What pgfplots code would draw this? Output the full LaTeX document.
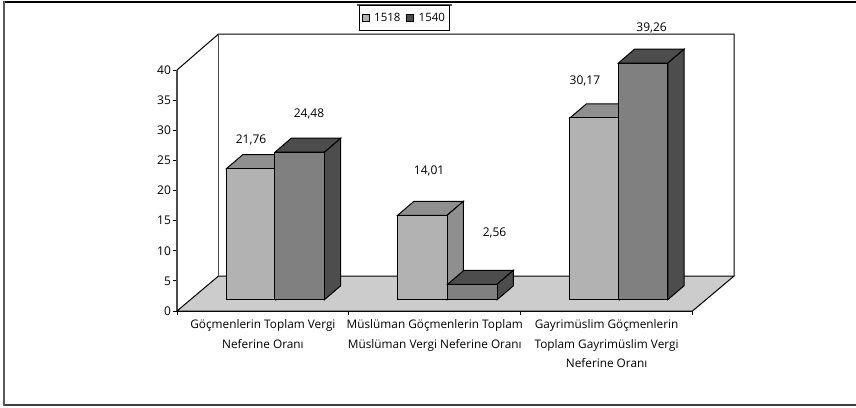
\documentclass[border=0pt]{standalone}
\usepackage{fontspec}
\setmainfont{Open Sans}
\usepackage{pgfplots}
\pgfplotsset{compat=1.18}

\definecolor{floorgray}{HTML}{CCCCCC}
\definecolor{lightfront}{HTML}{B2B2B2}
\definecolor{lightside}{HTML}{8F8F8F}
\definecolor{darkfront}{HTML}{808080}
\definecolor{darkside}{HTML}{4D4D4D}

% 3D look: front face, top and side, base lifted off the floor edge
\newcommand{\threedbar}[5]{%
  \addplot[fill=#4,draw=black,line width=1pt,forget plot] coordinates {
    ({#1},{1.875+#2}) ({#1+0.0949},{1.875+#2+2.32})
    ({#1+0.288+0.0949},{1.875+#2+2.32}) ({#1+0.288},{1.875+#2})} --cycle;
  \addplot[fill=#5,draw=black,line width=1pt,forget plot] coordinates {
    ({#1+0.288},{1.875}) ({#1+0.288+0.0949},{1.875+2.32})
    ({#1+0.288+0.0949},{1.875+#2+2.32}) ({#1+0.288},{1.875+#2})} --cycle;
  \addplot[fill=#3,draw=black,line width=1pt,forget plot] coordinates {
    ({#1},{1.875}) ({#1},{1.875+#2}) ({#1+0.288},{1.875+#2}) ({#1+0.288},{1.875})} --cycle;
}

\begin{document}
\begin{tikzpicture}
\useasboundingbox (-177pt,-96pt) rectangle (679pt,311pt);
\draw[black,line width=2pt] (-173pt,309pt) -- (679pt,309pt);
\draw[black!75,line width=2pt] (-173pt,-93.7pt) -- (679pt,-93.7pt);
\draw[black!65,line width=2pt] (-173pt,310pt) -- (-173pt,-94.7pt);
\begin{axis}[
  scale only axis,
  width=515.5pt,
  height=241pt,
  xmin=0, xmax=3,
  ymin=0, ymax=40,
  clip=false,
  axis y line=left,
  axis x line=bottom,
  axis line style={-},
  x axis line style={line width=1.6pt,black},
  y axis line style={line width=1.6pt,black!70},
  tick align=outside,
  major tick length=4pt,
  tick style={black,line width=0.8pt},
  ytick={0,5,...,40},
  xtick={0,1,2,3},
  xticklabels={},
  extra x ticks={0.5,1.5,2.5},
  extra x tick labels={{Göçmenlerin Toplam Vergi\\Neferine Oranı},{Müslüman Göçmenlerin Toplam\\Müslüman Vergi Neferine Oranı},{Gayrimüslim Göçmenlerin\\Toplam Gayrimüslim Vergi\\Neferine Oranı}},
  extra x tick style={tick style={draw=none}},
  xticklabel style={align=center,font=\fontsize{11.8pt}{19.6pt}\selectfont,yshift=-1pt},
  yticklabel style={font=\fontsize{12pt}{14pt}\selectfont,xshift=1.5pt},
  /pgf/number format/assume math mode=true,
  legend columns=2,
  legend style={at={(axis description cs:0.4413,1.2147)},anchor=center,draw=black,line width=1pt,
    font=\fontsize{11.5pt}{14pt}\selectfont,inner xsep=2.5pt,inner ysep=5.5pt,
    /tikz/every even column/.append style={column sep=4pt}},
  legend cell align=left,
]
\addlegendimage{only marks,mark=square*,mark size=3.6pt,mark options={fill=lightfront,draw=black,line width=0.8pt}}
\addlegendentry{\hspace{3pt}1518}
\addlegendimage{only marks,mark=square*,mark size=3.6pt,mark options={fill=darkside,draw=black,line width=0.8pt}}
\addlegendentry{\hspace{3pt}1540}

% floor and back wall
\addplot[fill=floorgray,draw=black,line width=1pt,forget plot] coordinates {
  (0,0) (3,0) (3.2415,5.8) (0.2415,5.8)} --cycle;
\addplot[draw=black,line width=1pt,forget plot] coordinates {
  (0,40) (0.2415,45.97) (3.2415,45.97) (3.2415,5.8)};
\addplot[draw=black!70,line width=1.6pt,forget plot] coordinates {
  (0.2415,45.97) (0.2415,5.8)};

% bars: start, value, front, top, side
\threedbar{0.288}{21.76}{lightfront}{lightside}{lightside}
\threedbar{0.570}{24.48}{darkfront}{darkside}{darkside}
\threedbar{1.284}{14.01}{lightfront}{lightside}{lightside}
\threedbar{1.575}{2.56}{darkfront}{darkside}{darkside}
\threedbar{2.287}{30.17}{lightfront}{lightside}{lightside}
\threedbar{2.568}{39.26}{darkfront}{darkside}{darkside}

% value labels, placed where they stand in the picture
\addplot[only marks,mark=none,forget plot,point meta=explicit symbolic,
  nodes near coords,
  every node near coord/.append style={anchor=center,yshift=-1.2pt,font=\fontsize{12pt}{14pt}\selectfont}]
  table[meta=label] {
  x y label
  0.431 28.55 21,76
  0.768 32.90 24,48
  1.467 23.40 14,01
  1.848 13.10 2,56
  2.374 38.34 30,17
  2.762 47.20 39,26
};
\draw[black!65,line width=2pt] (axis description cs:0.349,1.2697) -- (axis description cs:0.533,1.2697);
\end{axis}
\end{tikzpicture}
\end{document}
